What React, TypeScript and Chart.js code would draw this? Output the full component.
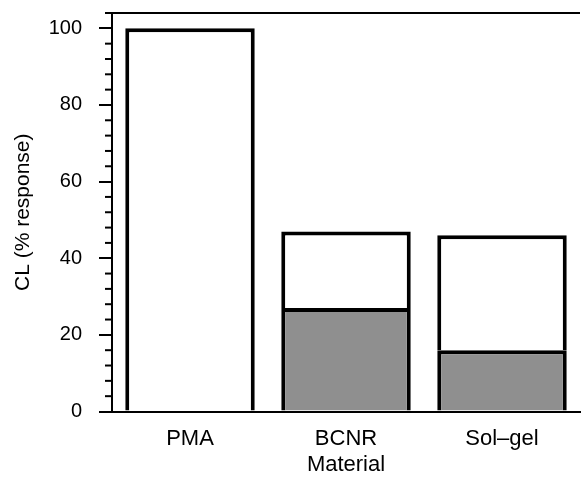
import React, { useEffect, useRef } from "react";
import { Chart, registerables } from "chart.js";

Chart.register(...registerables);

// ---- data ----
const categories: string[] = ["PMA", "BCNR", "Sol–gel"];
const shadedValues: (number | null)[] = [null, 27, 16];
const openValues: number[] = [100, 20, 30]; // stacked on top: totals 100, 47, 46
const yMin = 0;
const yMax = 104;
const minorStep = 4;
const majorStep = 20;
const xTitle = "Material";
const yTitle = "CL (% response)";

const FONT = "'Liberation Sans', Arial, Helvetica, sans-serif";

const minorTickPlugin = {
  id: "minorTicks",
  afterDraw(chart: any) {
    const y = chart.scales.y;
    const ctx = chart.ctx;
    ctx.save();
    ctx.strokeStyle = "#000";
    ctx.lineWidth = 2;
    y.ticks.forEach((t: any) => {
      if (t.value % majorStep !== 0) {
        const py = y.getPixelForValue(t.value);
        ctx.beginPath();
        ctx.moveTo(y.right - 7, py);
        ctx.lineTo(y.right, py);
        ctx.stroke();
      }
    });
    ctx.restore();
  },
};

export default function App() {
  const ref = useRef<HTMLCanvasElement | null>(null);
  useEffect(() => {
    if (!ref.current) return;
    const chart = new Chart(ref.current, {
      type: "bar",
      data: {
        labels: categories,
        datasets: [
          {
            data: shadedValues,
            backgroundColor: "#8f8f8f",
            borderColor: "#000",
            borderWidth: 4,
            borderSkipped: "start",
            barPercentage: 0.83,
            categoryPercentage: 1,
          },
          {
            data: openValues,
            backgroundColor: "#ffffff",
            borderColor: "#000",
            borderWidth: 4,
            borderSkipped: "start",
            barPercentage: 0.83,
            categoryPercentage: 1,
          },
        ],
      },
      options: {
        animation: false,
        responsive: false,
        maintainAspectRatio: false,
        layout: { padding: { top: 13, right: 1, left: 0, bottom: 0 } },
        plugins: { legend: { display: false }, tooltip: { enabled: false } },
        scales: {
          x: {
            stacked: true,
            z: 1,
            grid: { display: false },
            border: { display: true, color: "#000", width: 2 },
            ticks: { color: "#000", padding: 6, font: { family: FONT, size: 22 } },
            title: {
              display: true,
              text: xTitle,
              color: "#000",
              font: { family: FONT, size: 22 },
              padding: { top: 0, bottom: 1 },
            },
            afterFit(scale: any) {
              scale.height = 67.5;
              scale.paddingLeft = 0;
              scale.paddingRight = 0;
            },
          },
          y: {
            stacked: true,
            min: yMin,
            max: yMax,
            grid: {
              display: true,
              drawOnChartArea: true,
              drawTicks: true,
              tickLength: 13,
              lineWidth: 2,
              tickWidth: 2,
              color: (c: any) => (c.tick && c.tick.value === yMax ? "#000" : "rgba(0,0,0,0)"),
              tickColor: (c: any) =>
                c.tick && c.tick.value % majorStep === 0 ? "#000" : "rgba(0,0,0,0)",
            },
            border: { display: true, color: "#000", width: 2 },
            ticks: {
              stepSize: minorStep,
              autoSkip: false,
              color: "#000",
              padding: 17,
              font: { family: FONT, size: 20 },
              callback: (v: any) => (Number(v) % majorStep === 0 ? String(v) : ""),
            },
            title: {
              display: true,
              text: yTitle,
              color: "#000",
              font: { family: FONT, size: 21 },
              padding: { top: 11, bottom: 0 },
            },
            afterFit(scale: any) {
              scale.width = 112;
              scale.paddingTop = 0;
              scale.paddingBottom = 0;
            },
          },
        },
      },
      plugins: [minorTickPlugin],
    });
    return () => chart.destroy();
  }, []);
  return (
    <div style={{ position: "fixed", left: 0, top: 0, width: 581, height: 479, background: "#fff" }}>
      <canvas ref={ref} width={581} height={479} />
    </div>
  );
}
